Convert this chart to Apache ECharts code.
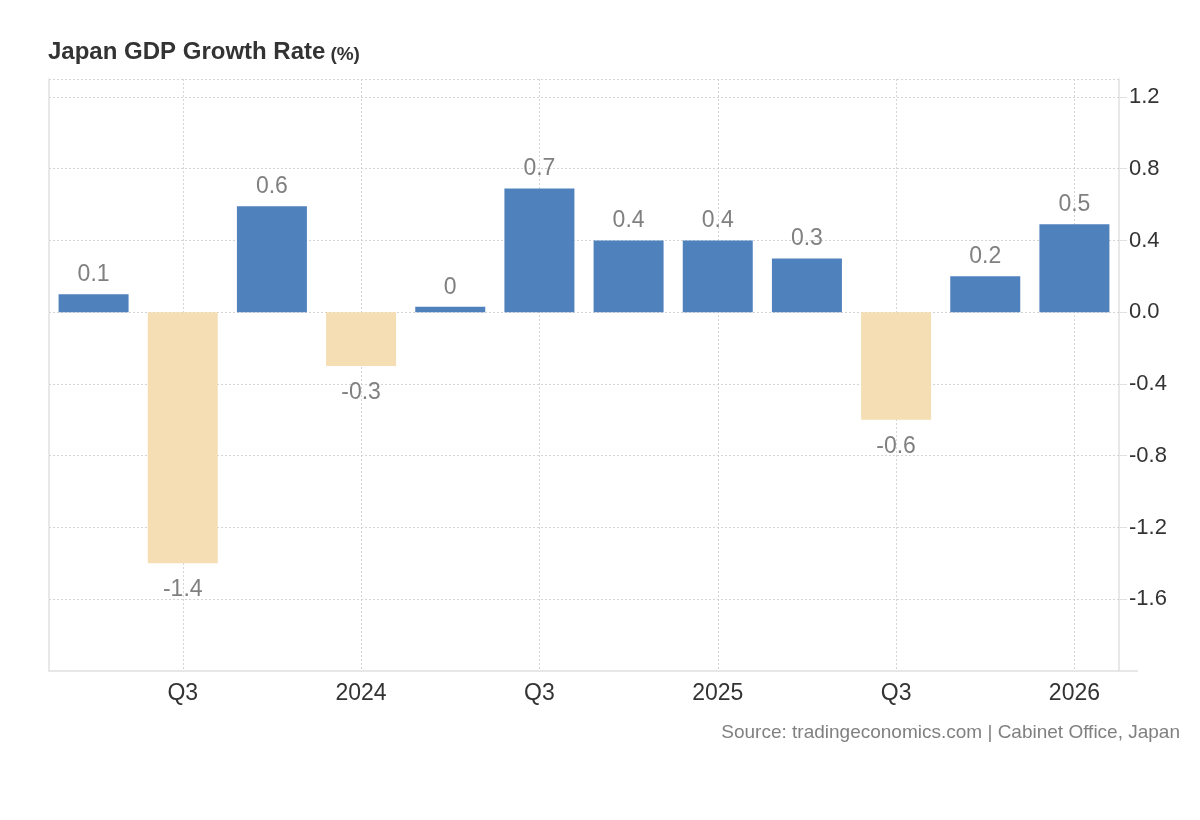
<!DOCTYPE html>
<html>
<head>
<meta charset="utf-8">
<title>Japan GDP Growth Rate</title>
<script src="https://cdn.jsdelivr.net/npm/echarts@6/dist/echarts.min.js"></script>
<style>
  html, body { margin: 0; padding: 0; background: #fff; }
  #chart { width: 1200px; height: 820px; }
</style>
</head>
<body>
<div id="chart"></div>
<script>
// Quarterly GDP growth rate, QoQ (%)
const quarters = ['2023 Q2', '2023 Q3', '2023 Q4', '2024 Q1', '2024 Q2', '2024 Q3',
  '2024 Q4', '2025 Q1', '2025 Q2', '2025 Q3', '2025 Q4', '2026 Q1']
const growth = [0.1, -1.4, 0.59, -0.3, 0.03, 0.69, 0.4, 0.4, 0.3, -0.6, 0.2, 0.49]
const tickLabels = ['', 'Q3', '', '2024', '', 'Q3', '', '2025', '', 'Q3', '', '2026']

const FONT = '"Liberation Sans", Arial, Helvetica, sans-serif'
const BLUE = '#4f81bd'
const WHEAT = '#f5deb3'
const GRID_LINE = '#d4d4d4'
const AXIS_LINE = '#e0e0e0'

const chart = echarts.init(document.getElementById('chart'))

chart.setOption({
  animation: false,
  textStyle: { fontFamily: FONT },
  title: {
    text: '{m|Japan GDP Growth Rate} {u|(%)}',
    left: 43,
    top: 35,
    textStyle: {
      rich: {
        m: { fontSize: 24, fontWeight: 'bold', color: '#333', fontFamily: FONT, verticalAlign: 'bottom' },
        u: { fontSize: 19, fontWeight: 'bold', color: '#333', fontFamily: FONT, verticalAlign: 'bottom' }
      }
    }
  },
  grid: { left: 49, right: 81, top: 79, bottom: 149, outerBoundsMode: 'none' },
  xAxis: {
    type: 'category',
    data: quarters,
    axisLine: { onZero: false, lineStyle: { color: AXIS_LINE, width: 1.5 } },
    axisTick: { show: false },
    axisLabel: {
      interval: 0,
      margin: 11,
      fontSize: 23,
      color: '#333',
      fontFamily: FONT,
      formatter: (v, i) => tickLabels[i]
    },
    splitLine: {
      show: true,
      alignWithLabel: true,
      interval: (i) => tickLabels[i] !== '',
      lineStyle: { color: GRID_LINE, type: [2, 2], width: 1 }
    }
  },
  yAxis: [{
    type: 'value',
    position: 'right',
    min: -2,
    max: 1.3,
    interval: 0.4,
    axisLine: { show: true, lineStyle: { color: AXIS_LINE, width: 1.5 } },
    axisTick: { show: true, length: 8, lineStyle: { color: AXIS_LINE } },
    axisLabel: {
      margin: 10,
      fontSize: 22,
      color: '#333',
      fontFamily: FONT,
      showMinLabel: false,
      showMaxLabel: false,
      formatter: (v) => v.toFixed(1)
    },
    splitLine: {
      show: true,
      showMinLine: false,
      lineStyle: { color: GRID_LINE, type: [2, 2], width: 1 }
    }
  }, {
    // plain left border of the plot
    type: 'value',
    position: 'left',
    min: -2,
    max: 1.3,
    axisLine: { show: true, lineStyle: { color: AXIS_LINE, width: 1.5 } },
    axisTick: { show: false },
    axisLabel: { show: false },
    splitLine: { show: false }
  }],
  series: [{
    type: 'bar',
    barWidth: 70,
    yAxisIndex: 0,
    data: growth.map(v => ({
      value: v,
      itemStyle: { color: v >= 0 ? BLUE : WHEAT },
      label: { position: v >= 0 ? 'top' : 'bottom', distance: v >= 0 ? 8 : 15 }
    })),
    label: {
      show: true,
      fontSize: 23,
      color: '#808080',
      fontFamily: FONT,
      formatter: (p) => String(Number(p.value.toFixed(1)))
    }
  }],
  graphic: [{
    type: 'text',
    right: 20,
    top: 723,
    style: {
      text: 'Source: tradingeconomics.com | Cabinet Office, Japan',
      fontSize: 19,
      fill: '#808080',
      fontFamily: FONT
    }
  }, {
    // bottom axis runs a little past the right axis
    type: 'line',
    shape: { x1: 1119, y1: 671, x2: 1138, y2: 671 },
    style: { stroke: AXIS_LINE, lineWidth: 1.5 }
  }]
})

window.addEventListener('resize', () => chart.resize())
</script>
</body>
</html>
